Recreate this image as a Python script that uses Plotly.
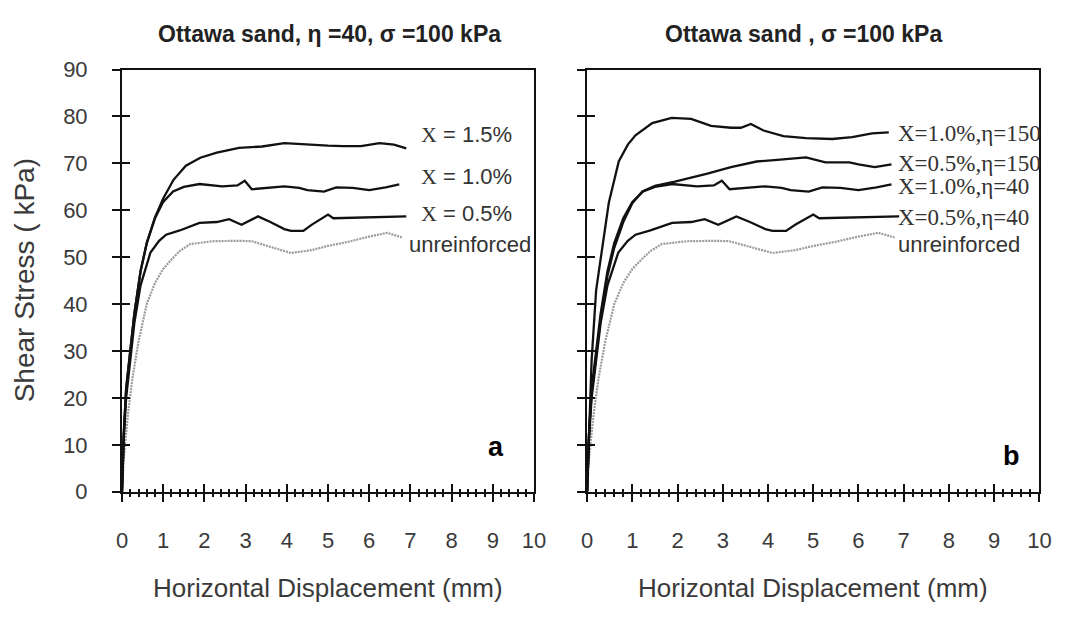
import plotly.graph_objects as go

# ---------------- data ----------------
x_15 = [0, 0.04, 0.1, 0.2, 0.3, 0.45, 0.6, 0.8, 1.0, 1.25, 1.55, 1.9, 2.3, 2.84, 3.4, 3.94, 4.5, 5.0, 5.37, 5.8, 6.25, 6.6, 6.9]
y_15 = [0, 12, 22, 30, 38, 47, 53, 58.5, 62.5, 66.5, 69.5, 71.2, 72.3, 73.3, 73.6, 74.3, 74.0, 73.8, 73.7, 73.7, 74.3, 74.0, 73.2]

x_10 = [0, 0.04, 0.1, 0.2, 0.3, 0.45, 0.6, 0.8, 1.0, 1.24, 1.5, 1.88, 2.2, 2.43, 2.8, 2.98, 3.15, 3.5, 3.94, 4.3, 4.5, 4.9, 5.2, 5.6, 6.0, 6.4, 6.73]
y_10 = [0, 12, 22, 30, 38, 47, 53, 58.3, 61.8, 64.0, 65.0, 65.6, 65.3, 65.1, 65.3, 66.3, 64.5, 64.8, 65.1, 64.8, 64.3, 64.0, 64.9, 64.8, 64.3, 64.9, 65.5]

x_05 = [0, 0.04, 0.1, 0.2, 0.3, 0.45, 0.69, 0.9, 1.07, 1.4, 1.88, 2.3, 2.6, 2.9, 3.3, 3.6, 3.94, 4.1, 4.4, 4.6, 5.0, 5.13, 5.5, 6.0, 6.5, 6.9]
y_05 = [0, 11, 20, 28, 36, 44, 51, 53.5, 54.8, 55.7, 57.3, 57.5, 58.1, 56.9, 58.7, 57.5, 56.0, 55.6, 55.6, 56.9, 59.1, 58.3, 58.4, 58.5, 58.7, 58.7]

x_un = [0, 0.05, 0.15, 0.25, 0.4, 0.6, 0.8, 1.0, 1.2, 1.4, 1.65, 2.2, 2.8, 3.15, 3.6, 4.1, 4.6, 5.0, 5.5, 6.0, 6.44, 6.8]
y_un = [0, 8, 17, 24, 32, 40, 44.5, 47.5, 49.5, 51.3, 52.8, 53.4, 53.5, 53.4, 52.2, 50.9, 51.5, 52.4, 53.3, 54.4, 55.2, 54.2]

x_150_10 = [0, 0.05, 0.1, 0.2, 0.35, 0.48, 0.7, 0.9, 1.07, 1.44, 1.87, 2.3, 2.74, 3.18, 3.4, 3.62, 3.9, 4.34, 4.84, 5.42, 5.86, 6.3, 6.67]
y_150_10 = [0, 15, 28, 43, 53.4, 61.6, 70.4, 74, 76, 78.6, 79.7, 79.5, 78, 77.6, 77.6, 78.4, 77, 75.8, 75.4, 75.2, 75.6, 76.4, 76.6]

x_150_05 = [0, 0.04, 0.1, 0.2, 0.3, 0.45, 0.6, 0.8, 1.0, 1.22, 1.5, 1.94, 2.3, 2.66, 3.18, 3.75, 4.27, 4.84, 5.27, 5.8, 6.0, 6.36, 6.73]
y_150_05 = [0, 12, 21, 29, 37, 46, 52, 57.5, 61.5, 64.0, 65.2, 66.1, 66.9, 67.8, 69.2, 70.4, 70.8, 71.3, 70.2, 70.2, 69.8, 69.2, 69.8]

x_ticks = [0, 1, 2, 3, 4, 5, 6, 7, 8, 9, 10]
y_ticks = [0, 10, 20, 30, 40, 50, 60, 70, 80, 90]

title_a = "Ottawa sand, η =40, σ =100 kPa"
title_b = "Ottawa sand , σ =100 kPa"
labels_a = ["X = 1.5%", "X = 1.0%", "X = 0.5%", "unreinforced"]
labels_b = ["X=1.0%,η=150", "X=0.5%,η=150", "X=1.0%,η=40", "X=0.5%,η=40", "unreinforced"]

# ---------------- styling ----------------
SANS = "Liberation Sans, Arial, sans-serif"
SERIF = "Liberation Serif, Times New Roman, serif"
BLACK = dict(color="#111111", width=2.3)
GREY = dict(color="#9a9a9a", width=2.2, dash="2px,1px")

W, H = 1074, 617
dom_a = [118 / W, 537 / W]
dom_b = [591 / W, 1051 / W]
dom_y = [1 - 500 / H, 1 - 60 / H]

fig = go.Figure()

def add(x, y, line, xa, ya):
    fig.add_trace(go.Scatter(x=x, y=y, mode="lines", line=line, xaxis=xa, yaxis=ya,
                             showlegend=False, hoverinfo="skip"))

# panel a
add(x_un, y_un, GREY, "x", "y")
add(x_05, y_05, BLACK, "x", "y")
add(x_10, y_10, BLACK, "x", "y")
add(x_15, y_15, BLACK, "x", "y")
# panel b
add(x_un, y_un, GREY, "x2", "y2")
add(x_05, y_05, BLACK, "x2", "y2")
add(x_10, y_10, BLACK, "x2", "y2")
add(x_150_05, y_150_05, BLACK, "x2", "y2")
add(x_150_10, y_150_10, BLACK, "x2", "y2")
# invisible traces for the overlay (inside-tick) axes
add([None], [None], dict(color="rgba(0,0,0,0)"), "x3", "y3")
add([None], [None], dict(color="rgba(0,0,0,0)"), "x4", "y4")

tickfont = dict(family=SANS, size=22, color="#3a3a3a")

def xaxis(domain, anchor, overlay=None):
    d = dict(domain=domain, anchor=anchor, range=[0, 10], tickvals=x_ticks,
             showgrid=False, zeroline=False, fixedrange=True)
    if overlay is None:
        d.update(showline=True, linecolor="#111111", linewidth=2, mirror=True,
                 ticks="outside", ticklen=8, tickwidth=2, tickcolor="#111111",
                 tickfont=tickfont, ticklabelstandoff=20,
                 minor=dict(dtick=0.2, ticks="outside", ticklen=3, tickwidth=1.5, tickcolor="#111111"))
    else:
        d.update(overlaying=overlay, showline=False, showticklabels=False,
                 ticks="inside", ticklen=8, tickwidth=2, tickcolor="#111111",
                 minor=dict(dtick=0.2, ticks="inside", ticklen=3, tickwidth=1.5, tickcolor="#111111"))
    return d

def yaxis(anchor, labels, overlay=None):
    d = dict(domain=dom_y, anchor=anchor, range=[0, 90], tickvals=y_ticks,
             showgrid=False, zeroline=False, fixedrange=True)
    if overlay is None:
        d.update(showline=True, linecolor="#111111", linewidth=2, mirror=True,
                 ticks="outside", ticklen=8, tickwidth=2, tickcolor="#111111",
                 tickfont=tickfont, showticklabels=labels, ticklabelstandoff=20)
    else:
        d.update(overlaying=overlay, showline=False, showticklabels=False,
                 ticks="inside", ticklen=8, tickwidth=2, tickcolor="#111111")
    return d

fig.update_layout(
    width=W, height=H, autosize=False,
    margin=dict(l=0, r=0, t=0, b=0),
    paper_bgcolor="white", plot_bgcolor="white",
    xaxis=xaxis(dom_a, "y"),
    yaxis=yaxis("x", True),
    xaxis2=xaxis(dom_b, "y2"),
    yaxis2=yaxis("x2", False),
    xaxis3=xaxis(dom_a, "y3", overlay="x"),
    yaxis3=yaxis("x3", False, overlay="y"),
    xaxis4=xaxis(dom_b, "y4", overlay="x2"),
    yaxis4=yaxis("x4", False, overlay="y2"),
)

ann = []
tfont = dict(family=SANS, size=23, color="#222222", weight="bold")
# chart titles
ann.append(dict(text=title_a, x=329 / W, y=1 - 23 / H, xref="paper", yref="paper",
                xanchor="center", yanchor="middle", showarrow=False, font=tfont))
ann.append(dict(text=title_b, x=811 / W, y=1 - 23 / H, xref="paper", yref="paper",
                xanchor="center", yanchor="middle", showarrow=False, font=tfont))
# axis titles
axfont = dict(family=SANS, size=26, color="#3a3a3a")
ann.append(dict(text="Horizontal Displacement (mm)", x=(dom_a[0] + dom_a[1]) / 2, y=1 - 600 / H,
                xref="paper", yref="paper", xanchor="center", yanchor="middle",
                showarrow=False, font=axfont))
ann.append(dict(text="Horizontal Displacement (mm)", x=(dom_b[0] + dom_b[1]) / 2, y=1 - 600 / H,
                xref="paper", yref="paper", xanchor="center", yanchor="middle",
                showarrow=False, font=axfont))
ann.append(dict(text="Shear Stress ( kPa)", x=19 / W, y=1 - 280 / H, xref="paper", yref="paper",
                xanchor="center", yanchor="middle", showarrow=False, textangle=-90,
                font=dict(family=SANS, size=28, color="#3a3a3a")))

# curve labels, panel a
lab_font = dict(family=SANS, size=22, color="#333333")
ya_a = [76.1, 67.1, 59.3]
for t, yv in zip(labels_a[:3], ya_a):
    txt = '<span style="font-family:Liberation Serif">X</span>' + t[1:]
    ann.append(dict(text=txt, x=7.2, y=yv, xref="x", yref="y", xanchor="left", yanchor="middle",
                    showarrow=False, font=lab_font))
ann.append(dict(text=labels_a[3], x=6.92, y=52.8, xref="x", yref="y", xanchor="left",
                yanchor="middle", showarrow=False, font=lab_font))

# curve labels, panel b
yb = [76.3, 70.0, 65.0, 58.5]
for t, yv in zip(labels_b[:4], yb):
    ann.append(dict(text=t, x=6.83, y=yv, xref="x2", yref="y2", xanchor="left", yanchor="middle",
                    showarrow=False, font=dict(family=SERIF, size=23, color="#333333")))
ann.append(dict(text=labels_b[4], x=6.83, y=52.8, xref="x2", yref="y2", xanchor="left",
                yanchor="middle", showarrow=False, font=lab_font))

# panel letters
ann.append(dict(text="a", x=9.07, y=9.6, xref="x", yref="y", showarrow=False,
                xanchor="center", yanchor="middle",
                font=dict(family=SANS, size=27, color="#000000", weight="bold")))
ann.append(dict(text="b", x=9.39, y=7.6, xref="x2", yref="y2", showarrow=False,
                xanchor="center", yanchor="middle",
                font=dict(family=SANS, size=27, color="#000000", weight="bold")))

fig.update_layout(annotations=ann)
fig.write_html("out.html")
